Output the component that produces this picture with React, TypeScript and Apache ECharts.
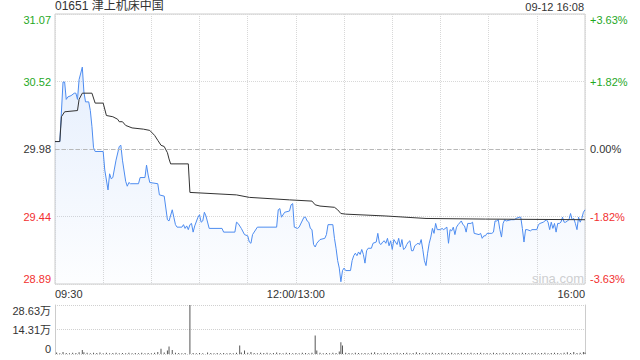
import React, { useEffect, useRef } from "react";
import * as echarts from "echarts";

const title = "01651 津上机床中国";
const stamp = "09-12 16:08";
const watermark = "sina.com";
const PREV_CLOSE = 29.98;
const PCT_RANGE = 3.63;
const VOL_MAX = 28.63;

const timeTickMinutes = [0, 150, 330];
const timeTickLabels = ["09:30", "12:00/13:00", "16:00"];
const priceLabels = ["28.89", "29.44", "29.98", "30.52", "31.07"];
const pctLabels = ["-3.63%", "-1.82%", "0.00%", "+1.82%", "+3.63%"];
const volLabels = ["0", "14.31万", "28.63万"];

// [minute since 09:30 (lunch removed), price]
const priceData: [number, number][] = [
  [0, 30.04], [3, 30.04], [5, 30.52], [6, 30.52], [7, 30.38], [8, 30.4], [10, 30.41], [12, 30.43], [13, 30.43], [14, 30.38],
  [15, 30.54], [17, 30.64], [18, 30.44], [19, 30.36], [21, 30.36], [22, 30.29], [23, 30.16], [24, 29.99], [25, 29.96], [30, 29.96],
  [31, 29.81], [33, 29.65], [34, 29.78], [35, 29.74], [36, 29.75], [38, 29.89], [40, 30.0], [41, 30.01], [42, 29.89], [44, 29.72],
  [45, 29.68], [46, 29.71], [47, 29.7], [52, 29.7], [53, 29.75], [56, 29.75], [57, 29.85], [58, 29.77], [59, 29.71], [64, 29.7],
  [65, 29.61], [68, 29.6], [70, 29.41], [71, 29.4], [73, 29.49], [74, 29.43], [75, 29.37], [76, 29.35], [79, 29.35], [80, 29.37],
  [81, 29.34], [82, 29.36], [83, 29.33], [84, 29.37], [85, 29.38], [86, 29.31], [87, 29.36], [89, 29.43], [90, 29.45], [91, 29.39],
  [92, 29.4], [93, 29.47], [94, 29.44], [96, 29.34], [104, 29.34], [105, 29.31], [112, 29.31], [113, 29.39], [114, 29.38], [116, 29.34],
  [118, 29.29], [120, 29.28], [121, 29.23], [122, 29.22], [123, 29.29], [126, 29.35], [138, 29.35], [139, 29.49], [140, 29.5], [141, 29.43],
  [143, 29.47], [146, 29.48], [147, 29.53], [148, 29.54], [149, 29.35], [151, 29.34], [152, 29.35], [155, 29.43], [156, 29.43], [157, 29.4],
  [158, 29.39], [159, 29.34], [160, 29.33], [161, 29.21], [162, 29.19], [163, 29.22], [165, 29.25], [168, 29.26], [169, 29.29], [170, 29.37],
  [173, 29.37], [174, 29.26], [175, 29.18], [176, 29.08], [177, 29.02], [178, 28.91], [179, 29.0], [180, 29.02], [181, 29.0], [184, 29.0],
  [185, 29.08], [186, 29.12], [187, 29.14], [188, 29.12], [189, 29.15], [190, 29.13], [191, 29.17], [192, 29.13], [193, 29.06], [194, 29.16],
  [195, 29.18], [197, 29.18], [198, 29.22], [200, 29.23], [201, 29.3], [202, 29.22], [203, 29.21], [204, 29.23], [205, 29.24], [206, 29.22],
  [207, 29.26], [208, 29.2], [209, 29.24], [210, 29.17], [211, 29.25], [213, 29.21], [214, 29.26], [215, 29.19], [216, 29.25], [217, 29.17],
  [218, 29.18], [219, 29.21], [220, 29.23], [221, 29.24], [222, 29.16], [223, 29.16], [224, 29.2], [225, 29.21], [226, 29.22], [227, 29.21],
  [228, 29.25], [229, 29.17], [230, 29.08], [231, 29.04], [232, 29.14], [233, 29.22], [234, 29.27], [235, 29.34], [236, 29.3], [237, 29.38],
  [238, 29.33], [240, 29.33], [241, 29.34], [242, 29.33], [244, 29.35], [245, 29.22], [246, 29.33], [247, 29.32], [248, 29.35], [249, 29.29],
  [250, 29.35], [251, 29.37], [253, 29.4], [254, 29.37], [255, 29.36], [256, 29.31], [257, 29.38], [259, 29.38], [260, 29.39], [261, 29.3],
  [264, 29.29], [265, 29.3], [266, 29.26], [267, 29.28], [268, 29.28], [269, 29.3], [272, 29.3], [273, 29.31], [274, 29.4], [275, 29.4],
  [276, 29.41], [277, 29.33], [278, 29.27], [279, 29.38], [280, 29.41], [281, 29.4], [284, 29.41], [286, 29.41], [287, 29.42], [289, 29.43],
  [290, 29.43], [291, 29.34], [292, 29.23], [293, 29.33], [294, 29.33], [296, 29.32], [297, 29.33], [300, 29.33], [301, 29.37], [302, 29.38],
  [304, 29.39], [306, 29.41], [307, 29.39], [308, 29.33], [309, 29.39], [310, 29.34], [311, 29.38], [312, 29.31], [313, 29.38], [314, 29.38],
  [315, 29.39], [316, 29.43], [317, 29.39], [318, 29.39], [319, 29.4], [320, 29.41], [321, 29.46], [322, 29.41], [323, 29.42], [324, 29.38],
  [325, 29.33], [326, 29.43], [327, 29.39], [328, 29.42], [329, 29.47], [330, 29.49],
];

const avgData: [number, number][] = [
  [0, 30.04], [3, 30.04], [4, 30.24], [6, 30.28], [14, 30.29], [15, 30.38], [17, 30.43], [23, 30.43], [25, 30.35], [30, 30.35],
  [32, 30.25], [36, 30.24], [39, 30.22], [40, 30.2], [42, 30.2], [44, 30.17], [48, 30.15], [55, 30.14], [59, 30.13], [62, 30.09],
  [64, 30.05], [66, 30.01], [68, 30.0], [70, 29.95], [71, 29.9], [72, 29.86], [83, 29.86], [84, 29.63], [113, 29.61], [121, 29.59],
  [146, 29.57], [160, 29.56], [162, 29.53], [165, 29.52], [174, 29.51], [176, 29.49], [178, 29.46], [181, 29.455], [206, 29.44], [231, 29.42],
  [268, 29.415], [330, 29.41],
];

// [minute, volume in 万]
const volData: [number, number][] = [
  [1, 0.9], [3, 0.5], [5, 1.2], [7, 0.6], [9, 0.5], [11, 0.8], [13, 0.6], [15, 1.0], [17, 2.3], [18, 1.0],
  [20, 0.7], [22, 0.5], [24, 0.8], [26, 0.6], [28, 0.9], [30, 0.5], [32, 0.7], [34, 0.5], [36, 0.6], [38, 0.8],
  [40, 0.5], [42, 0.6], [44, 0.5], [46, 0.7], [48, 0.5], [50, 0.6], [52, 0.5], [54, 0.7], [56, 0.5], [58, 0.6],
  [60, 0.5], [62, 0.8], [64, 1.1], [66, 3.0], [68, 0.9], [70, 2.0], [71, 4.4], [73, 2.4], [75, 0.8], [77, 0.6],
  [79, 0.5], [81, 0.6], [84, 28.63], [86, 0.6], [88, 0.5], [90, 0.6], [92, 0.5], [95, 0.9], [97, 0.6], [99, 0.5],
  [101, 0.6], [103, 0.5], [105, 0.6], [107, 0.5], [109, 0.6], [111, 0.5], [113, 0.7], [115, 5.0], [116, 0.9], [118, 2.0],
  [120, 0.7], [122, 1.2], [124, 0.6], [126, 0.5], [128, 0.7], [130, 0.6], [132, 0.8], [134, 0.5], [136, 0.6], [138, 0.9],
  [140, 0.6], [142, 0.5], [144, 0.7], [146, 0.6], [148, 0.5], [150, 0.6], [152, 0.5], [154, 0.8], [156, 0.6], [158, 0.5],
  [160, 0.7], [162, 10.8], [163, 2.0], [165, 0.7], [167, 0.5], [169, 0.6], [171, 0.5], [173, 0.7], [175, 0.6], [177, 1.5],
  [178, 6.8], [179, 5.0], [181, 0.8], [183, 0.6], [185, 0.5], [187, 0.7], [189, 0.6], [191, 0.5], [193, 0.6], [195, 0.5],
  [197, 0.7], [199, 1.0], [201, 0.6], [203, 0.5], [205, 0.7], [207, 0.6], [209, 0.5], [211, 0.6], [213, 0.7], [215, 0.5],
  [217, 0.6], [219, 0.8], [221, 0.5], [223, 0.6], [225, 1.0], [227, 0.6], [229, 0.5], [231, 0.7], [233, 0.6], [235, 0.8],
  [237, 0.5], [239, 0.6], [241, 0.7], [243, 0.5], [245, 0.6], [247, 0.8], [249, 0.5], [251, 0.6], [253, 0.7], [255, 0.5],
  [257, 0.6], [259, 0.8], [261, 0.5], [263, 0.6], [265, 0.7], [267, 0.5], [269, 0.6], [271, 0.5], [273, 0.7], [275, 0.6],
  [277, 0.5], [279, 0.8], [281, 0.6], [283, 0.5], [285, 0.7], [287, 0.6], [289, 0.5], [291, 0.7], [293, 0.6], [295, 0.5],
  [297, 0.6], [299, 0.7], [301, 0.5], [303, 0.6], [305, 0.8], [307, 0.5], [309, 0.6], [311, 0.7], [313, 0.6], [315, 0.5],
  [317, 0.7], [319, 1.0], [321, 0.6], [323, 1.2], [325, 0.6], [327, 0.8], [329, 1.2], [330, 0.9],
];

const GREEN = "#1fa81f";
const RED = "#f23030";
const DARK = "#333333";
const FONT = "Liberation Sans, Arial, Noto Sans CJK SC, sans-serif";

// price -> axis units, where +/-2 corresponds to +/-PCT_RANGE %
const toUnit = (p: number) => ((p / PREV_CLOSE - 1) * 100) / (PCT_RANGE / 2);
const labelIdx = (v: number) => Math.round(v) + 2;
const labelColor = (v: number) => (v > 0.01 ? GREEN : v < -0.01 ? RED : DARK);

export default function App() {
  const ref = useRef<HTMLDivElement>(null);
  useEffect(() => {
    document.body.style.margin = "0";
    const chart = echarts.init(ref.current!, undefined, { renderer: "svg" });
    const left = 55;
    const right = 55;
    chart.setOption({
      animation: false,
      textStyle: { fontFamily: FONT },
      graphic: [
        { type: "text", left: 55, top: 0, style: { text: title, fontSize: 12, fill: DARK, fontFamily: FONT } },
        { type: "text", right: 56, top: 1, style: { text: stamp, fontSize: 11, fill: DARK, fontFamily: FONT } },
        { type: "text", left: 532, top: 272, style: { text: watermark, fontSize: 13, fill: "#d0d0d0", fontFamily: FONT } },
      ],
      grid: [
        { left, right, top: 14, height: 270, show: true, borderColor: "#cccccc", borderWidth: 1 },
        { left, right, top: 305, height: 49 },
      ],
      xAxis: [
        {
          gridIndex: 0, type: "value", min: 0, max: 330, interval: 30,
          axisLine: { show: false }, axisTick: { show: false },
          splitLine: { show: true, lineStyle: { color: "#d8d8d8", type: "dotted" } },
          axisLabel: {
            margin: 4, fontSize: 11, color: DARK, fontFamily: FONT,
            alignMinLabel: "left", alignMaxLabel: "right",
            formatter: (v: number) => {
              const i = timeTickMinutes.indexOf(Math.round(v));
              return i >= 0 ? timeTickLabels[i] : "";
            },
          },
        },
        {
          gridIndex: 1, type: "value", min: 0, max: 330, interval: 30,
          axisLine: { show: false }, axisTick: { show: false }, axisLabel: { show: false },
          splitLine: { show: false },
        },
      ],
      yAxis: [
        {
          gridIndex: 0, type: "value", min: -2, max: 2, interval: 1, position: "left",
          axisLine: { show: false }, axisTick: { show: false },
          splitLine: { show: true, lineStyle: { color: "#d8d8d8", type: "dotted" } },
          axisLabel: {
            margin: 4, fontSize: 11, fontFamily: FONT,
            verticalAlignMinLabel: "bottom", verticalAlignMaxLabel: "top",
            color: (v: any) => labelColor(Number(v)),
            formatter: (v: number) => priceLabels[labelIdx(v)],
          },
        },
        {
          gridIndex: 0, type: "value", min: -2, max: 2, interval: 1, position: "right",
          axisLine: { show: false }, axisTick: { show: false }, splitLine: { show: false },
          axisLabel: {
            margin: 5, fontSize: 11, fontFamily: FONT,
            verticalAlignMinLabel: "bottom", verticalAlignMaxLabel: "top",
            color: (v: any) => labelColor(Number(v)),
            formatter: (v: number) => pctLabels[labelIdx(v)],
          },
        },
        {
          gridIndex: 1, type: "value", min: 0, max: VOL_MAX, interval: VOL_MAX / 2, position: "left",
          axisLine: { show: true, lineStyle: { color: "#cccccc" } }, axisTick: { show: false },
          splitLine: { show: true, lineStyle: { color: "#d0d0d0", type: "dotted" } },
          axisLabel: {
            margin: 4, fontSize: 11, color: DARK, fontFamily: FONT,
            verticalAlignMinLabel: "bottom", verticalAlignMaxLabel: "top",
            formatter: (v: number) => volLabels[Math.round(v / (VOL_MAX / 2))],
          },
        },
        {
          gridIndex: 1, type: "value", min: 0, max: VOL_MAX, position: "right",
          axisLine: { show: true, lineStyle: { color: "#cccccc" } }, axisTick: { show: false },
          axisLabel: { show: false }, splitLine: { show: false },
        },
      ],
      series: [
        {
          type: "line", xAxisIndex: 0, yAxisIndex: 0, symbol: "none",
          data: priceData.map(([m, p]) => [m, toUnit(p)]),
          lineStyle: { color: "#4d8cf0", width: 1 },
          areaStyle: {
            origin: "start",
            color: new echarts.graphic.LinearGradient(0, 0, 0, 1, [
              { offset: 0, color: "rgba(77,140,240,0.20)" },
              { offset: 1, color: "rgba(77,140,240,0.02)" },
            ]),
          },
          markLine: {
            silent: true, symbol: "none", label: { show: false },
            lineStyle: { color: "#b8b8b8", type: [4, 3], width: 1 },
            data: [{ yAxis: 0 }],
          },
          z: 3,
        },
        {
          type: "line", xAxisIndex: 0, yAxisIndex: 0, symbol: "none",
          data: avgData.map(([m, p]) => [m, toUnit(p)]),
          lineStyle: { color: "#333333", width: 1 },
          z: 4,
        },
        {
          type: "bar", xAxisIndex: 1, yAxisIndex: 2, barWidth: 1,
          data: volData,
          itemStyle: { color: "#555555" },
        },
      ],
    });
    return () => chart.dispose();
  }, []);
  return <div ref={ref} style={{ width: 640, height: 360 }} />;
}
